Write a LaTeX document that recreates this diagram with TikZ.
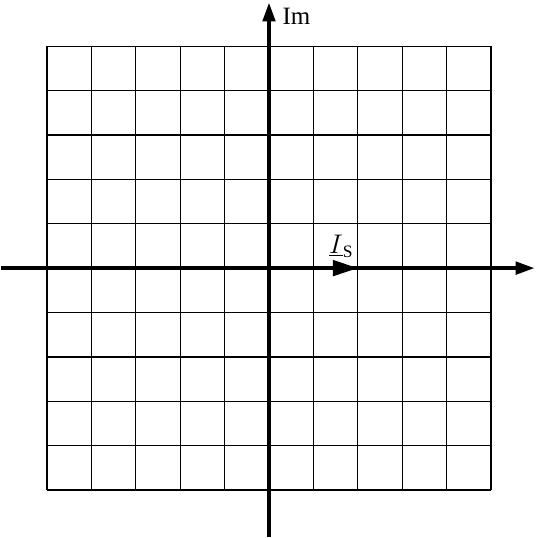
\documentclass[tikz,border=0pt]{standalone}
\usepackage{fontspec}
\setmainfont{Liberation Serif}
\usetikzlibrary{arrows.meta}

\begin{document}
\begin{tikzpicture}[font=\fontsize{16}{19}\selectfont]
  \tikzstyle{ax}=[line width=2.2pt,-{Triangle[length=12pt,width=8pt]}]
  \tikzstyle{ph}=[line width=2.2pt,-{Triangle[length=16pt,width=10pt]}]
  \useasboundingbox (-6.06,-6.08) rectangle (6.01,6.04);
  \draw[line width=0.8pt] (-5,-5) grid (5,5);
  \coordinate (o) at (0,0);
  \coordinate (xl) at (-6.04,0); \coordinate (xr) at (5.98,0);
  \coordinate (yb) at (0,-6.06); \coordinate (yt) at (0,5.98);
  \coordinate (is) at (2,0);
  \draw[ax] (xl)--(xr);
  \draw[ax] (yb)--(yt);
  \node[anchor=west,inner sep=0pt] (im) at (0.3,5.68) {Im};
  \draw[ph] (o)--(is);
  \node (lab) at (1.63,0.5) {$\underline{I}_{\mathrm{S}}$};
\end{tikzpicture}
\end{document}
